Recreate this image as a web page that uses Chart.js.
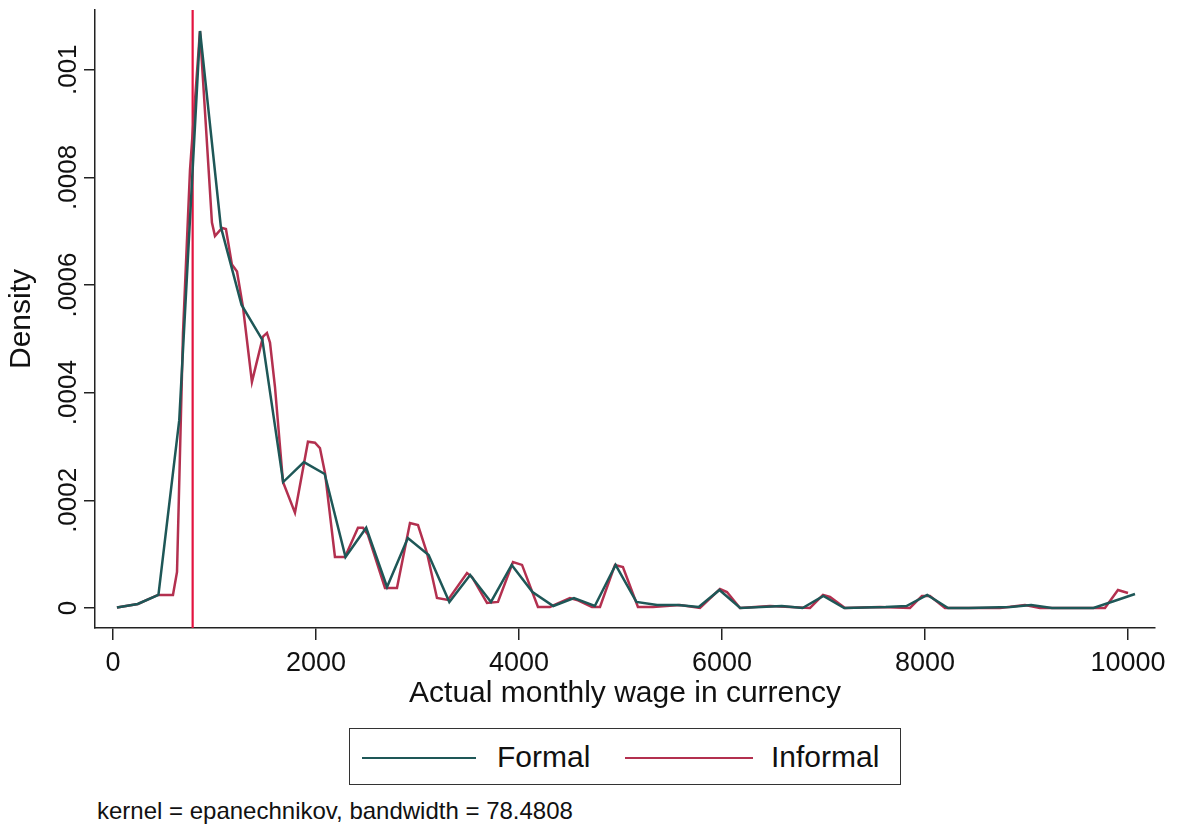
<!DOCTYPE html>
<html>
<head>
<meta charset="utf-8">
<script src="https://cdn.jsdelivr.net/npm/chart.js@4.4.1/dist/chart.umd.min.js"></script>
<style>
  body{margin:0;background:#fff;font-family:"Liberation Sans",Arial,sans-serif;}
  #wrap{position:relative;width:1177px;height:827px;overflow:hidden;}
  #chart{position:absolute;left:0;top:0;}
  #legend{position:absolute;left:349px;top:728px;width:550px;height:55px;border:1.5px solid #333;}
  .sw{position:absolute;top:28px;height:0;border-top:2.5px solid;}
  .lbl{position:absolute;top:10px;font-size:30px;color:#111;line-height:36px;}
  #note{position:absolute;left:97px;top:797px;font-size:24px;color:#111;}
</style>
</head>
<body>
<div id="wrap">
  <canvas id="chart" width="1177" height="712"></canvas>
  <div id="legend">
    <div class="sw" style="left:12px;width:114px;border-color:#1e5757"></div>
    <div class="lbl" style="left:147px">Formal</div>
    <div class="sw" style="left:275px;width:128px;border-color:#b3304f"></div>
    <div class="lbl" style="left:421px">Informal</div>
  </div>
  <div id="note">kernel = epanechnikov, bandwidth = 78.4808</div>
</div>
<script>
// --- Data ---
const formalX = [39,244,448,653,858,1063,1267,1472,1677,1881,2086,2291,2495,2700,2905,3110,3314,3519,3724,3928,
  4133,4338,4542,4747,4952,5157,5361,5566,5771,5975,6180,6385,6589,6794,6999,7204,7408,7613,7818,8022,
  8227,8432,8636,8841,9046,9251,9455,9660,9865,10069];
const formalDensity = [0.000001,0.0000074,0.0000242,0.000349,0.001072,0.000708,0.000563,0.000498,0.000234,0.000271,
  0.000249,0.0000948,0.000149,0.000039,0.00013,0.0000985,0.0000112,0.0000613,0.0000112,0.00008,
  0.0000297,0.0000037,0.0000186,0.0000037,0.00008,0.0000112,0.0000056,0.0000056,0.0000019,0.0000335,
  0,0.0000019,0.0000037,0,0.0000223,0,0.000001,0.0000019,0.0000037,0.0000242,
  0,0,0.000001,0.0000019,0.0000056,0,0,0,0.000013,0.000026];

const informalX = [39,246,443,591,631,690,759,857,975,1005,1074,1113,1172,1222,1281,1369,1478,1517,1547,1596,
  1675,1793,1921,1990,2039,2089,2187,2286,2414,2463,2512,2680,2798,2926,3005,3094,3192,3301,3488,3537,
  3685,3793,3941,4030,4187,4305,4502,4571,4719,4798,4946,5024,5172,5320,5586,5783,5980,6049,6177,6473,
  6867,6995,7064,7212,7557,7852,7970,8049,8197,8739,8985,9133,9724,9773,9901,10000];
const informalDensity = [0.000001,0.0000074,0.0000242,0.0000242,0.0000669,0.000511,0.000814,0.001072,0.000716,0.000691,
  0.000706,0.000704,0.000638,0.000625,0.000559,0.00042,0.000504,0.000511,0.000493,0.000411,
  0.000234,0.000177,0.000309,0.000307,0.000297,0.000251,0.0000948,0.0000948,0.000149,0.000149,
  0.000136,0.0000372,0.0000372,0.000158,0.000154,0.000102,0.0000186,0.0000149,0.000065,0.0000576,
  0.0000093,0.0000112,0.0000855,0.00008,0.0000019,0.0000019,0.0000186,0.0000149,0.0000019,0.0000019,
  0.00008,0.0000762,0.0000019,0.0000019,0.0000056,0,0.0000353,0.0000297,0,0.0000037,
  0,0.0000242,0.0000204,0,0.0000019,0,0.0000223,0.0000223,0,0,
  0.0000056,0,0,0,0.0000335,0.0000279];

const minWage = 785;
const xTicks = [0,2000,4000,6000,8000,10000];
const yTicks = [0,0.0002,0.0004,0.0006,0.0008,0.001];
const xRange = [-177,10266];
const yRange = [-0.0000372,0.001111];

const FONT = '"Liberation Sans", Arial, sans-serif';
const toPts = (xs,ys)=>xs.map((x,i)=>({x, y:ys[i]}));
const fmtDensity = v => v===0 ? "0" : v.toFixed(4).replace(/0+$/,'').replace(/^0/,'');

// rotated y tick labels (Chart.js can't rotate y ticks)
const yTickLabels = {
  id:'yTickLabels',
  afterDraw(chart){
    const {ctx, scales:{y}} = chart;
    ctx.save();
    ctx.font = '26px ' + FONT;
    ctx.fillStyle = '#111';
    ctx.textAlign = 'center';
    ctx.textBaseline = 'alphabetic';
    yTicks.forEach(v=>{
      ctx.save();
      ctx.translate(76, y.getPixelForValue(v));
      ctx.rotate(-Math.PI/2);
      ctx.fillText(fmtDensity(v), 0, 0);
      ctx.restore();
    });
    ctx.restore();
  }
};

new Chart(document.getElementById('chart'), {
  type:'line',
  data:{
    datasets:[
      {label:'Formal', data:toPts(formalX,formalDensity), borderColor:'#1e5757', borderWidth:2.5, pointRadius:0, tension:0},
      {label:'Informal', data:toPts(informalX,informalDensity), borderColor:'#b3304f', borderWidth:2.5, pointRadius:0, tension:0},
      {label:'min', data:[{x:minWage,y:yRange[0]},{x:minWage,y:yRange[1]}], borderColor:'#e3133f', borderWidth:2.2, pointRadius:0}
    ]
  },
  options:{
    responsive:false, animation:false, devicePixelRatio:1,
    layout:{padding:{top:10,right:22,left:0,bottom:0}},
    plugins:{legend:{display:false}, tooltip:{enabled:false}},
    scales:{
      x:{
        type:'linear', min:xRange[0], max:xRange[1],
        afterBuildTicks: s => { s.ticks = xTicks.map(v=>({value:v})); },
        afterFit: s => { s.height = 84; },
        grid:{drawOnChartArea:false, tickLength:12, color:'#222', lineWidth:1.5},
        border:{color:'#222', width:1.5},
        ticks:{font:{size:27, family:FONT}, color:'#111', padding:7, maxRotation:0, callback:v=>String(v)},
        title:{display:true, text:'Actual monthly wage in currency', font:{size:30, family:FONT}, color:'#111', padding:0}
      },
      y:{
        type:'linear', min:yRange[0], max:yRange[1],
        afterBuildTicks: s => { s.ticks = yTicks.map(v=>({value:v})); },
        afterFit: s => { s.width = 95; },
        grid:{drawOnChartArea:false, tickLength:11, color:'#222', lineWidth:1.5},
        border:{color:'#222', width:1.5},
        ticks:{display:false},
        title:{display:true, text:'Density', font:{size:30, family:FONT}, color:'#111', padding:{top:4,bottom:0}}
      }
    }
  },
  plugins:[yTickLabels]
});
</script>
</body>
</html>
